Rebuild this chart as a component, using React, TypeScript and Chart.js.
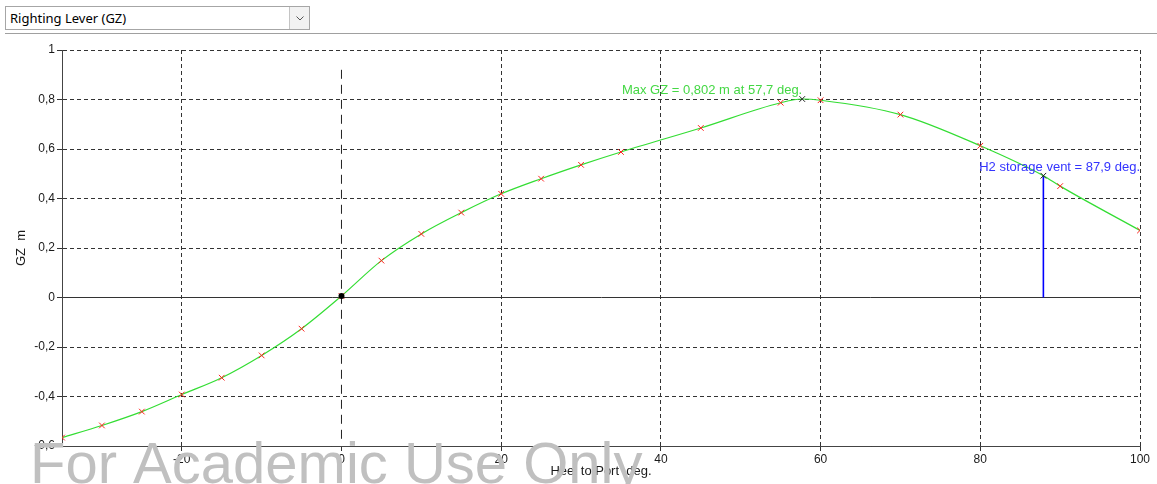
import React, { useEffect, useRef } from 'react';
import { Chart, registerables } from 'chart.js';

Chart.register(...registerables);

// ---- data ----
const heelAngles = [-35, -30, -25, -20, -15, -10, -5, 0, 5, 10, 15, 20, 25, 30, 35, 45, 55, 60, 70, 80, 90, 100];
const gzValues = [-0.566, -0.517, -0.461, -0.392, -0.324, -0.234, -0.126, 0.006, 0.149, 0.257, 0.343, 0.419, 0.48, 0.536, 0.588, 0.685, 0.787, 0.797, 0.739, 0.613, 0.45, 0.271];
const maxGzAngle = 57.7;
const maxGzValue = 0.802;
const ventAngle = 87.9;
const ventGz = 0.492;
const equilibriumAngle = 0;
const equilibriumGz = 0.006;
const zeroHeelSpan = [0.92, -0.58];
const xTickValues = [-20, 0, 20, 40, 60, 80, 100];
const yTickValues = [-0.6, -0.4, -0.2, 0, 0.2, 0.4, 0.6, 0.8, 1];
const xRange = [-35, 100];
const yRange = [-0.6, 1];

const FONT = '"Liberation Sans", Arial, sans-serif';

const fmt = (v: number, d: number) => v.toFixed(d).replace('.', ',');
const fmtTick = (v: number) => {
  if (Math.abs(v) < 1e-9) return '0';
  if (Number.isInteger(v)) return String(v);
  return fmt(v, 1);
};

const maxLabel = `Max GZ = ${fmt(maxGzValue, 3)} m at ${fmt(maxGzAngle, 1)} deg.`;
const ventLabel = `H2 storage vent = ${fmt(ventAngle, 1)} deg.`;
const watermark = 'For Academic Use Only';

const overlayPlugin = {
  id: 'overlayText',
  afterDatasetsDraw(chart: any) {
    const { ctx, scales, chartArea } = chart;
    const x = scales.x;
    const y = scales.y;
    ctx.save();
    ctx.font = `13px ${FONT}`;
    ctx.textBaseline = 'middle';
    ctx.textAlign = 'right';
    ctx.fillStyle = '#44d844';
    ctx.fillText(maxLabel, x.getPixelForValue(maxGzAngle), y.getPixelForValue(maxGzValue) - 9);
    ctx.fillStyle = '#3434ff';
    ctx.fillText(ventLabel, chartArea.right, y.getPixelForValue(ventGz) - 8);
    ctx.restore();
  },
  afterDraw(chart: any) {
    const { ctx } = chart;
    ctx.save();
    ctx.font = `58px ${FONT}`;
    ctx.textBaseline = 'alphabetic';
    ctx.textAlign = 'left';
    ctx.fillStyle = '#c0c0c0';
    ctx.fillText(watermark, 30, 483);
    ctx.restore();
  },
};

export default function App() {
  const canvasRef = useRef<HTMLCanvasElement | null>(null);

  useEffect(() => {
    if (!canvasRef.current) return;
    const curve = heelAngles.map((a, i) => ({ x: a, y: gzValues[i] }));
    curve.push({ x: maxGzAngle, y: maxGzValue });
    curve.push({ x: ventAngle, y: ventGz });
    curve.sort((p, q) => p.x - q.x);

    const chart = new Chart(canvasRef.current, {
      type: 'line',
      data: {
        datasets: [
          {
            label: 'equilibrium',
            data: [{ x: equilibriumAngle, y: equilibriumGz }],
            showLine: false,
            pointStyle: 'circle',
            pointRadius: 3,
            backgroundColor: '#000',
            borderColor: '#000',
            borderWidth: 0,
            order: 0,
            clip: 0,
          },
          {
            label: 'key points',
            data: [
              { x: maxGzAngle, y: maxGzValue },
              { x: ventAngle, y: ventGz },
            ],
            showLine: false,
            pointStyle: 'crossRot',
            pointRadius: 4,
            borderColor: '#222',
            borderWidth: 1,
            order: 1,
            clip: 0,
          },
          {
            label: 'GZ points',
            data: heelAngles.map((a, i) => ({ x: a, y: gzValues[i] })),
            showLine: false,
            pointStyle: 'crossRot',
            pointRadius: 4,
            borderColor: '#ff2020',
            borderWidth: 1,
            order: 2,
            clip: 0,
          },
          {
            label: 'GZ',
            data: curve,
            borderColor: '#33dd33',
            borderWidth: 1.2,
            pointRadius: 0,
            cubicInterpolationMode: 'monotone',
            order: 3,
            clip: 0,
          },
          {
            label: 'vent',
            data: [
              { x: ventAngle, y: 0 },
              { x: ventAngle, y: ventGz },
            ],
            borderColor: '#0000ff',
            borderWidth: 1.6,
            pointRadius: 0,
            order: 4,
            clip: 0,
          },
          {
            label: 'zero heel',
            data: [
              { x: 0, y: zeroHeelSpan[0] },
              { x: 0, y: zeroHeelSpan[1] },
            ],
            borderColor: '#222',
            borderWidth: 1,
            borderDash: [9, 6],
            pointRadius: 0,
            order: 5,
            clip: 0,
          },
        ] as any,
      },
      options: {
        animation: false,
        responsive: false,
        devicePixelRatio: 1,
        parsing: false as any,
        layout: { padding: { left: 0, top: 50, right: 17, bottom: 0 } },
        plugins: {
          legend: { display: false },
          tooltip: { enabled: false },
        },
        scales: {
          x: {
            type: 'linear',
            min: xRange[0],
            max: xRange[1],
            afterBuildTicks: (s: any) => {
              s.ticks = xTickValues.map((v) => ({ value: v }));
            },
            afterFit: (s: any) => {
              s.height = 38;
            },
            ticks: {
              autoSkip: false,
              maxRotation: 0,
              padding: 1,
              color: '#1a1a1a',
              font: { family: FONT, size: 12 },
              callback: (v: any) => fmtTick(Number(v)),
            },
            grid: {
              color: (c: any) => (c.tick && c.tick.value === 0 ? 'rgba(0,0,0,0)' : '#333'),
              lineWidth: 1,
              tickLength: 5,
              tickColor: '#333',
            },
            border: {
              display: true,
              color: '#444',
              width: 1,
              dash: [4, 3],
            },
            title: {
              display: true,
              text: 'Heel to Port  deg.',
              color: '#1a1a1a',
              font: { family: FONT, size: 13 },
              padding: { top: 0, bottom: 5 },
            },
          },
          y: {
            type: 'linear',
            min: yRange[0],
            max: yRange[1],
            afterBuildTicks: (s: any) => {
              s.ticks = yTickValues.map((v) => ({ value: v }));
            },
            afterFit: (s: any) => {
              s.width = 62;
            },
            ticks: {
              autoSkip: false,
              padding: 2,
              color: '#1a1a1a',
              font: { family: FONT, size: 12 },
              callback: (v: any) => fmtTick(Number(v)),
            },
            grid: {
              color: '#333',
              lineWidth: 1,
              tickLength: 5,
              tickColor: '#333',
            },
            border: {
              display: true,
              color: '#444',
              width: 1,
              dash: (c: any) => (c.tick && Math.abs(c.tick.value) < 1e-9 ? [] : [4, 3]),
            },
            title: {
              display: true,
              text: 'GZ  m',
              color: '#1a1a1a',
              font: { family: FONT, size: 13 },
              padding: { top: 14, bottom: 0 },
            },
          },
        },
      } as any,
      plugins: [overlayPlugin],
    });
    return () => chart.destroy();
  }, []);

  return (
    <div style={{ position: 'fixed', left: 0, top: 0, width: 1157, height: 484, background: '#fff', overflow: 'hidden' }}>
      <div
        style={{
          position: 'absolute',
          left: 5,
          top: 6,
          width: 305,
          height: 24,
          boxSizing: 'border-box',
          border: '1px solid #a6a6a6',
          background: '#fff',
          fontFamily: '"Noto Sans", "Open Sans", sans-serif',
          fontSize: 13,
          color: '#000',
          lineHeight: '22px',
          paddingLeft: 4,
        }}
      >
        Righting Lever (GZ)
        <div
          style={{
            position: 'absolute',
            right: 0,
            top: 0,
            width: 20,
            height: 22,
            boxSizing: 'border-box',
            borderLeft: '1px solid #c4c4c4',
            background: '#f2f2f2',
          }}
        >
          <svg width="20" height="22" style={{ position: 'absolute', left: 0, top: 0 }}>
            <polyline points="6.5,9.5 10,13 13.5,9.5" fill="none" stroke="#555" strokeWidth="1" />
          </svg>
        </div>
      </div>
      <div style={{ position: 'absolute', left: 5, top: 33, width: 1152, height: 1, background: '#a0a0a0' }} />
      <canvas
        ref={canvasRef}
        width={1157}
        height={484}
        style={{ position: 'absolute', left: 0, top: 0, width: 1157, height: 484 }}
      />
    </div>
  );
}
